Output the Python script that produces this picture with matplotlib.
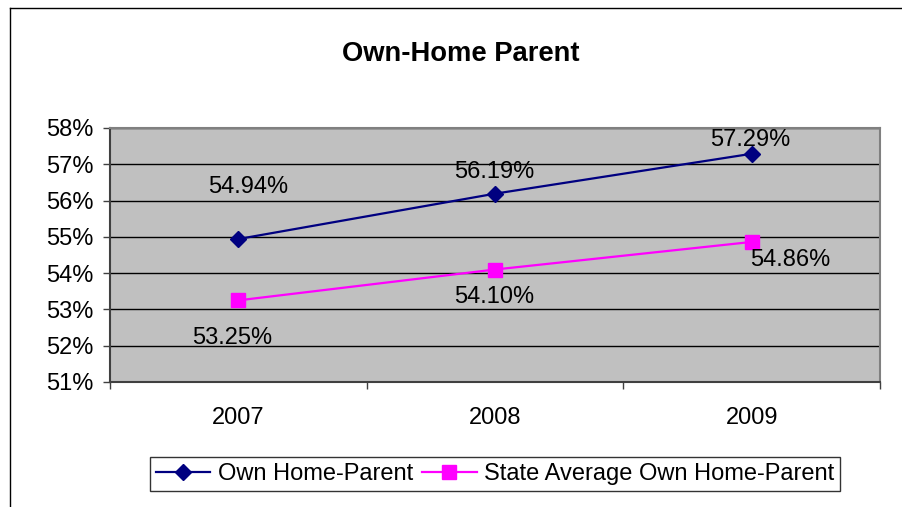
import matplotlib
matplotlib.use("Agg")
import matplotlib.pyplot as plt
from matplotlib.lines import Line2D
from matplotlib.ticker import FixedLocator, NullFormatter

plt.rcParams['font.family'] = ['Liberation Sans', 'DejaVu Sans']

title = "Own-Home Parent"
years = ["2007", "2008", "2009"]
own_home = [54.94, 56.19, 57.29]
state_avg = [53.25, 54.10, 54.86]
series_names = ["Own Home-Parent", "State Average Own Home-Parent"]
yticks = [51, 52, 53, 54, 55, 56, 57, 58]

W, H = 903, 507
fig = plt.figure(figsize=(W / 100, H / 100), dpi=100)
fig.patch.set_facecolor("white")

# outer chart border (left & top visible)
fig.add_artist(Line2D([10 / W, 10 / W], [0, 1 - 8 / H], transform=fig.transFigure, color="black", lw=1))
fig.add_artist(Line2D([10 / W, 1], [1 - 8 / H, 1 - 8 / H], transform=fig.transFigure, color="black", lw=1))

ax = fig.add_axes([110 / W, 1 - 382 / H, 770 / W, 254 / H])
ax.set_facecolor("#C0C0C0")
x = list(range(len(years)))

ax.set_xlim(-0.5, len(years) - 0.5)
ax.set_ylim(yticks[0], yticks[-1])
ax.set_yticks(yticks)
ax.set_yticklabels([f"{v}%" for v in yticks], fontsize=17)
ax.yaxis.grid(True, color="black", lw=1)
ax.set_axisbelow(True)

ax.xaxis.set_major_locator(FixedLocator([i - 0.5 for i in range(len(years) + 1)]))
ax.xaxis.set_major_formatter(NullFormatter())
ax.set_xticks(x, minor=True)
ax.set_xticklabels(years, minor=True, fontsize=17)
ax.tick_params(axis="x", which="minor", length=0, pad=18)
ax.tick_params(axis="x", which="major", length=5, width=1, color="#404040", direction="out")
ax.tick_params(axis="y", length=5, width=1, color="#404040", direction="out", pad=7)

for s in ["top", "right"]:
    ax.spines[s].set_color("#808080")
    ax.spines[s].set_linewidth(1.5)
for s in ["left", "bottom"]:
    ax.spines[s].set_color("#404040")
    ax.spines[s].set_linewidth(1.5)

ax.plot(x, own_home, color="#000080", lw=1.6, marker="D", markersize=8.5,
        label=series_names[0], clip_on=False, zorder=3)
ax.plot(x, state_avg, color="#FF00FF", lw=1.6, marker="s", markersize=10,
        label=series_names[1], clip_on=False, zorder=3)

blue_off = [(10, 52), (-1, 22), (-1, 14)]
pink_off = [(-6, -38), (-1, -27), (39, -18)]
for i in x:
    dx, dy = blue_off[i]
    ax.annotate(f"{own_home[i]:.2f}%", (i, own_home[i]), xytext=(dx * 0.72, dy * 0.72),
                textcoords="offset points", ha="center", va="center", fontsize=17, zorder=4,
                annotation_clip=False)
    dx, dy = pink_off[i]
    ax.annotate(f"{state_avg[i]:.2f}%", (i, state_avg[i]), xytext=(dx * 0.72, dy * 0.72),
                textcoords="offset points", ha="center", va="center", fontsize=17, zorder=4,
                annotation_clip=False)

fig.text(461 / W, 1 - 54 / H, title, ha="center", va="center", fontsize=19.7, fontweight="bold")

leg = fig.legend(loc="center", bbox_to_anchor=(495 / W, 1 - 474 / H), ncol=2, fontsize=17,
                 frameon=True, fancybox=False, edgecolor="black", handlelength=2.3,
                 handletextpad=0.3, columnspacing=0.4, borderpad=0.25)
leg.get_frame().set_linewidth(1)

fig.savefig("out.png", dpi=100)
